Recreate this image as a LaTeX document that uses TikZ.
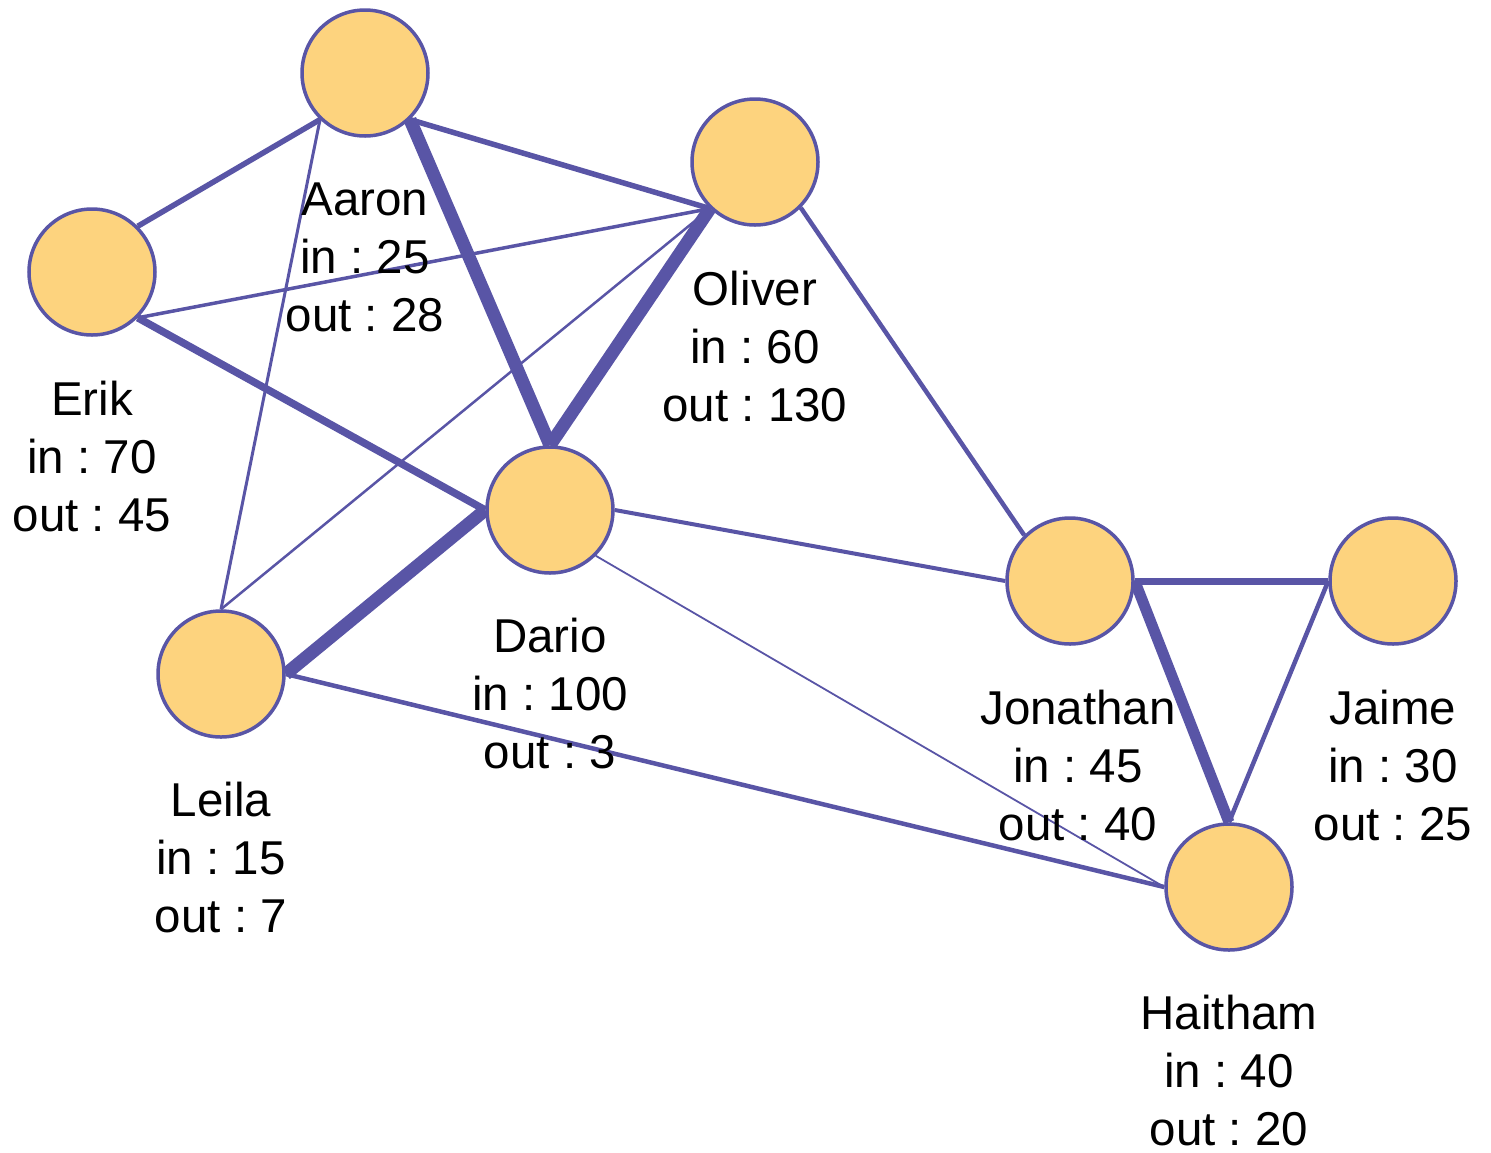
\documentclass[tikz,border=0pt]{standalone}
\usepackage{fontspec}
\setmainfont{Liberation Sans}
\frenchspacing
\usetikzlibrary{backgrounds}
\definecolor{edgeblue}{RGB}{89,85,166}
\definecolor{nodefill}{RGB}{253,211,126}
\newcommand\plabel[6]{%
  \node[lbl] (#1-a) at (#2,#3) {#4};
  \node[lbl] (#1-b) at (#2,#3+58) {#5};
  \node[lbl] (#1-c) at (#2,#3+116) {#6};}
\begin{document}
\begin{tikzpicture}[x=1pt,y=-1pt,
  person/.style={circle, draw=edgeblue, fill=nodefill, line width=3.5pt, minimum size=126pt, inner sep=0pt},
  lbl/.style={anchor=base, inner sep=0pt, font=\fontsize{47.5}{58}\selectfont},
  link/.style={draw=edgeblue, line cap=butt},
]
\useasboundingbox (0,0) rectangle (1491,1152);
\node[person] (aaron) at (365,73) {};
\node[person] (oliver) at (755,162) {};
\node[person] (erik) at (92,272) {};
\node[person] (dario) at (550,510) {};
\node[person] (leila) at (221,674) {};
\node[person] (jonathan) at (1070,581) {};
\node[person] (jaime) at (1393,581) {};
\node[person] (haitham) at (1229,887) {};

\begin{scope}[on background layer]
\draw[link, line width=5.5pt] (erik.45) -- (aaron.226);
\draw[link, line width=3pt] (aaron.226) -- (leila.90);
\draw[link, line width=13pt] (aaron.314) -- (dario.90);
\draw[link, line width=5.5pt] (aaron.314) -- (oliver.226);
\draw[link, line width=3.5pt] (erik.-45) -- (oliver.226);
\draw[link, line width=2.5pt] (leila.90) -- (oliver.226);
\draw[link, line width=13pt] (dario.90) -- (oliver.226);
\draw[link, line width=7.5pt] (erik.-45) -- (dario.180);
\draw[link, line width=13pt] (dario.180) -- (leila.0);
\draw[link, line width=4.5pt] (leila.0) -- (haitham.180);
\draw[link, line width=1.8pt] (dario.-45) -- (haitham.180);
\draw[link, line width=4pt] (dario.0) -- (jonathan.180);
\draw[link, line width=4.5pt] (oliver.-45) -- (jonathan.135);
\draw[link, line width=7pt] (jonathan.0) -- (jaime.180);
\draw[link, line width=11pt] (jonathan.0) -- (haitham.90);
\draw[link, line width=4.5pt] (jaime.180) -- (haitham.90);
\end{scope}

\plabel{erikl}{92}{415}{Erik}{in : 70}{out : 45}
\plabel{aaronl}{365}{215}{Aaron}{in : 25}{out : 28}
\plabel{oliverl}{755}{305}{Oliver}{in : 60}{out : 130}
\plabel{dariol}{550}{652}{Dario}{in : 100}{out : 3}
\plabel{leilal}{221}{816}{Leila}{in : 15}{out : 7}
\plabel{jonathanl}{1078}{724}{Jonathan}{in : 45}{out : 40}
\plabel{jaimel}{1393}{724}{Jaime}{in : 30}{out : 25}
\plabel{haithaml}{1229}{1029}{Haitham}{in : 40}{out : 20}
\end{tikzpicture}
\end{document}
